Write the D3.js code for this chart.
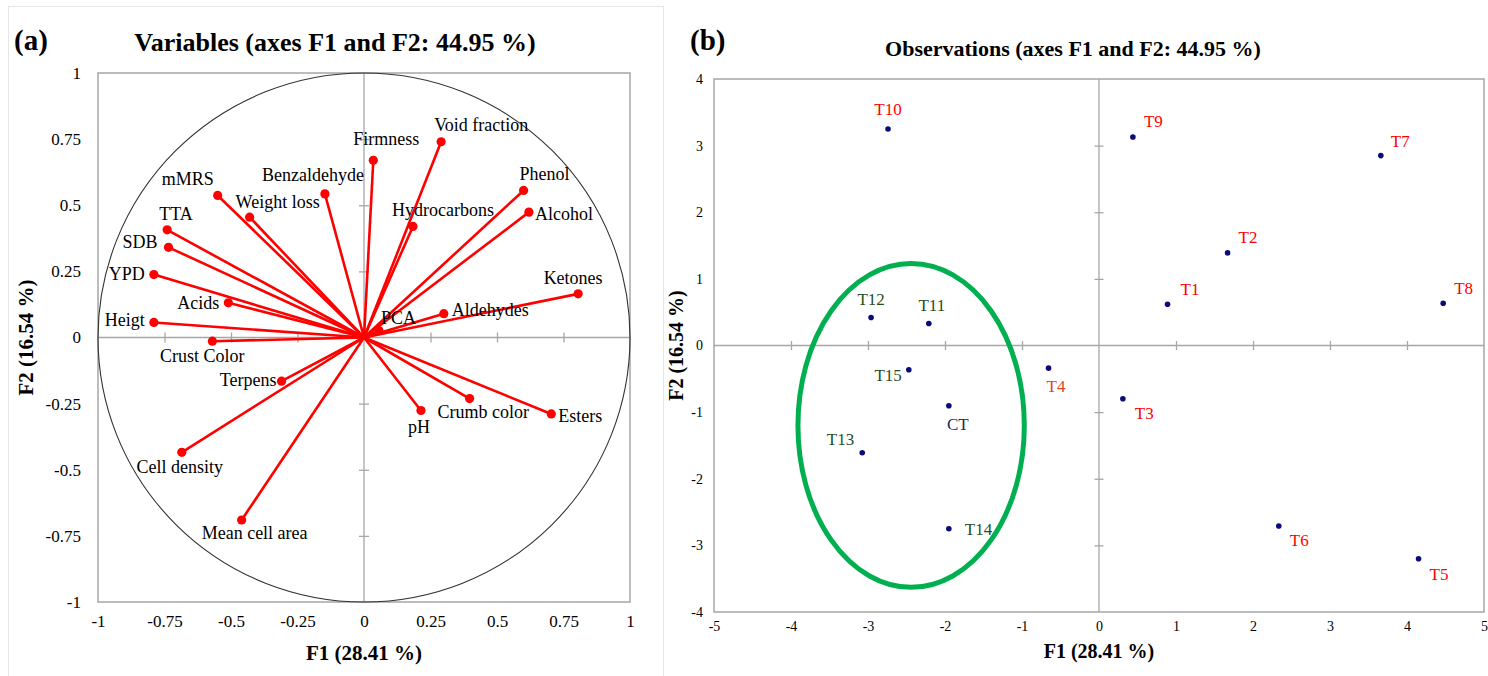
<!DOCTYPE html>
<html lang="en">
<head>
<meta charset="utf-8">
<title>PCA F1-F2</title>
<script src="https://cdn.jsdelivr.net/npm/d3@7"></script>
<style>
body { margin: 0; background: #fff; }
svg text { font-family: "Liberation Serif", "Times New Roman", serif; fill: #000; }
.frame { fill: none; stroke: #a6a6a6; stroke-width: 1.5px; }
.zero { stroke: #a6a6a6; stroke-width: 1.3px; }
.marks line { stroke: #a6a6a6; stroke-width: 1.3px; }
.bold { font-weight: bold; }
</style>
</head>
<body>
<script>
var w = 1488, h = 676;
var serif = "'Liberation Serif', 'Times New Roman', serif";

// (a) variables: loadings on F1 / F2
var varNames = ["Firmness", "Void fraction", "Benzaldehyde", "mMRS", "Weight loss", "Phenol", "Alcohol",
  "Hydrocarbons", "TTA", "SDB", "YPD", "Acids", "Heigt", "Ketones", "Aldehydes", "PCA", "Crust Color",
  "Terpens", "Cell density", "Mean cell area", "pH", "Crumb color", "Esters"];
var varF1 = [0.035, 0.29, -0.147, -0.55, -0.43, 0.60, 0.62, 0.184, -0.74, -0.735, -0.79, -0.51, -0.79,
  0.805, 0.30, 0.056, -0.57, -0.31, -0.685, -0.46, 0.214, 0.397, 0.704];
var varF2 = [0.67, 0.74, 0.543, 0.537, 0.455, 0.556, 0.474, 0.42, 0.407, 0.341, 0.238, 0.131, 0.057,
  0.165, 0.09, 0.026, -0.014, -0.165, -0.434, -0.69, -0.276, -0.231, -0.289];
var varTicks = [-1, -0.75, -0.5, -0.25, 0, 0.25, 0.5, 0.75, 1];

// (b) observations: scores on F1 / F2
var obsNames = ["T10", "T9", "T7", "T2", "T1", "T8", "T12", "T11", "T15", "CT", "T13", "T14", "T4", "T3", "T6", "T5"];
var obsF1 = [-2.74, 0.44, 3.66, 1.67, 0.89, 4.47, -2.96, -2.21, -2.47, -1.95, -3.075, -1.95, -0.655, 0.31, 2.335, 4.15];
var obsF2 = [3.25, 3.13, 2.85, 1.39, 0.62, 0.635, 0.42, 0.33, -0.365, -0.905, -1.61, -2.75, -0.34, -0.80, -2.71, -3.20];
var obsXTicks = [-5, -4, -3, -2, -1, 0, 1, 2, 3, 4, 5];
var obsYTicks = [-4, -3, -2, -1, 0, 1, 2, 3, 4];
var groupCentre = [-2.44, -1.2];
var groupRadii = [1.47, 2.43];

// label placement: [anchor, dx, dy]
var varLab = {
  "Firmness": ["middle", 13, -15], "Void fraction": ["start", -7, -11], "Benzaldehyde": ["end", 39, -13],
  "mMRS": ["end", -4, -10], "Weight loss": ["start", -14, -9], "Phenol": ["start", -4, -10],
  "Alcohol": ["start", 6, 8], "Hydrocarbons": ["start", -21, -10], "TTA": ["start", -8, -10],
  "SDB": ["end", -11, 1], "YPD": ["end", -9, 5], "Acids": ["end", -9, 6], "Heigt": ["end", -9, 4],
  "Ketones": ["middle", -5, -10], "Aldehydes": ["start", 8, 2], "PCA": ["start", 2, -7],
  "Crust Color": ["middle", -10, 21], "Terpens": ["end", -5, 5], "Cell density": ["middle", -2, 21],
  "Mean cell area": ["middle", 13, 19], "pH": ["middle", -2, 22], "Crumb color": ["start", -32, 19],
  "Esters": ["start", 7, 8]
};
var obsLab = {
  "T10": ["middle", 0, -14], "T9": ["start", 11, -10], "T7": ["start", 10, -9], "T2": ["start", 11, -10],
  "T1": ["start", 13, -9], "T8": ["start", 11, -9], "T12": ["middle", 0, -13], "T11": ["middle", 3, -13],
  "T15": ["end", -7, 11], "CT": ["middle", 9, 24], "T13": ["end", -8, -8], "T14": ["start", 16, 6],
  "T4": ["start", -2, 24], "T3": ["start", 12, 20], "T6": ["start", 11, 20], "T5": ["start", 11, 21]
};
function obsColour(n) {
  if (n == "CT") return "#1c2b55";
  if (n == "T4") return "#e2441c";
  if (["T11", "T12", "T13", "T14", "T15"].indexOf(n) >= 0) return "#1f4f1f";
  return "#ff0000";
}
var fmt = function(d) { return String(d); };

// tick labels only: no domain, serif text
function labelsOnly(size) {
  return function(g) {
    g.select(".domain").remove();
    g.attr("font-family", null).attr("font-size", null);
    g.selectAll("text").style("font-family", serif).style("font-size", size).style("fill", "#000");
  };
}

var svg = d3.select("body").append("svg")
  .attr("width", w)
  .attr("height", h);

svg.append("rect").attr("width", w).attr("height", h).attr("fill", "#fff");
// thin border round panel (a)
svg.append("rect")
  .attr("x", 8.5).attr("y", 6.5).attr("width", 655).attr("height", 690)
  .attr("fill", "none").attr("stroke", "#e6e6e6");

// ---------- panel (a) ----------
var xA = d3.scaleLinear().domain([-1, 1]).range([98, 630]);
var yA = d3.scaleLinear().domain([-1, 1]).range([602, 73]);
var gA = svg.append("g");

gA.append("rect").attr("class", "frame")
  .attr("x", xA(-1)).attr("y", yA(1))
  .attr("width", xA(1) - xA(-1)).attr("height", yA(-1) - yA(1));
gA.append("line").attr("class", "zero")
  .attr("x1", xA(0)).attr("x2", xA(0)).attr("y1", yA(1)).attr("y2", yA(-1));
gA.append("line").attr("class", "zero")
  .attr("x1", xA(-1)).attr("x2", xA(1)).attr("y1", yA(0)).attr("y2", yA(0));

// tick marks crossing the zero lines
var innerA = varTicks.filter(function(d) { return d != 0 && Math.abs(d) != 1; });
gA.append("g").attr("class", "marks")
  .attr("transform", "translate(" + (xA(0) + 5) + ",0)")
  .call(d3.axisLeft(yA).tickValues(innerA).tickSize(10).tickFormat(""))
  .call(function(g) { g.select(".domain").remove(); });
gA.append("g").attr("class", "marks")
  .attr("transform", "translate(0," + (yA(0) - 5) + ")")
  .call(d3.axisBottom(xA).tickValues(innerA).tickSize(10).tickFormat(""))
  .call(function(g) { g.select(".domain").remove(); });

// tick labels
gA.append("g")
  .attr("transform", "translate(" + xA(-1) + ",0)")
  .call(d3.axisLeft(yA).tickValues(varTicks).tickSize(0).tickPadding(17).tickFormat(fmt))
  .call(labelsOnly("17px"));
gA.append("g")
  .attr("transform", "translate(0," + yA(-1) + ")")
  .call(d3.axisBottom(xA).tickValues(varTicks).tickSize(0).tickPadding(13).tickFormat(fmt))
  .call(labelsOnly("17px"));

// correlation circle
gA.append("ellipse")
  .attr("cx", xA(0)).attr("cy", yA(0))
  .attr("rx", xA(1) - xA(0)).attr("ry", yA(-1) - yA(0))
  .attr("fill", "none").attr("stroke", "#333").attr("stroke-width", 1.1);

var idxA = d3.range(varNames.length);
gA.selectAll("line.vec")
  .data(idxA).enter().append("line")
  .attr("class", "vec")
  .attr("x1", xA(0)).attr("y1", yA(0))
  .attr("x2", function(i) { return xA(varF1[i]); })
  .attr("y2", function(i) { return yA(varF2[i]); })
  .attr("stroke", "#ff0000").attr("stroke-width", 2.6);
gA.selectAll("circle")
  .data(idxA).enter().append("circle")
  .attr("cx", function(i) { return xA(varF1[i]); })
  .attr("cy", function(i) { return yA(varF2[i]); })
  .attr("r", 4.6).attr("fill", "#ff0000");
gA.selectAll("text.lab")
  .data(idxA).enter().append("text")
  .attr("class", "lab")
  .attr("x", function(i) { return xA(varF1[i]) + varLab[varNames[i]][1]; })
  .attr("y", function(i) { return yA(varF2[i]) + varLab[varNames[i]][2]; })
  .attr("text-anchor", function(i) { return varLab[varNames[i]][0]; })
  .attr("font-size", "18px")
  .text(function(i) { return varNames[i]; });

svg.append("text").attr("class", "bold")
  .attr("x", 14).attr("y", 50).attr("font-size", "29px").text("(a)");
svg.append("text").attr("class", "bold")
  .attr("x", 335).attr("y", 51).attr("text-anchor", "middle").attr("font-size", "26px")
  .text("Variables (axes F1 and F2: 44.95 %)");
svg.append("text").attr("class", "bold")
  .attr("x", xA(0)).attr("y", 660).attr("text-anchor", "middle").attr("font-size", "21px")
  .text("F1 (28.41 %)");
svg.append("text").attr("class", "bold")
  .attr("transform", "translate(33," + yA(0) + ") rotate(-90)")
  .attr("text-anchor", "middle").attr("font-size", "21px")
  .text("F2 (16.54 %)");

// ---------- panel (b) ----------
var xB = d3.scaleLinear().domain([-5, 5]).range([714, 1484]);
var yB = d3.scaleLinear().domain([-4, 4]).range([612, 79]);
var gB = svg.append("g");

gB.append("rect").attr("class", "frame")
  .attr("x", xB(-5)).attr("y", yB(4))
  .attr("width", xB(5) - xB(-5)).attr("height", yB(-4) - yB(4));
gB.append("line").attr("class", "zero")
  .attr("x1", xB(0)).attr("x2", xB(0)).attr("y1", yB(4)).attr("y2", yB(-4));
gB.append("line").attr("class", "zero")
  .attr("x1", xB(-5)).attr("x2", xB(5)).attr("y1", yB(0)).attr("y2", yB(0));

gB.append("g").attr("class", "marks")
  .attr("transform", "translate(" + (xB(0) + 4.5) + ",0)")
  .call(d3.axisLeft(yB).tickValues(obsYTicks.filter(function(d) { return d != 0 && Math.abs(d) != 4; }))
    .tickSize(9).tickFormat(""))
  .call(function(g) { g.select(".domain").remove(); });
gB.append("g").attr("class", "marks")
  .attr("transform", "translate(0," + (yB(0) - 4.5) + ")")
  .call(d3.axisBottom(xB).tickValues(obsXTicks.filter(function(d) { return d != 0 && Math.abs(d) != 5; }))
    .tickSize(9).tickFormat(""))
  .call(function(g) { g.select(".domain").remove(); });

gB.append("g")
  .attr("transform", "translate(" + xB(-5) + ",0)")
  .call(d3.axisLeft(yB).tickValues(obsYTicks).tickSize(0).tickPadding(11).tickFormat(fmt))
  .call(labelsOnly("14px"));
gB.append("g")
  .attr("transform", "translate(0," + yB(-4) + ")")
  .call(d3.axisBottom(xB).tickValues(obsXTicks).tickSize(0).tickPadding(9).tickFormat(fmt))
  .call(labelsOnly("14px"));

// group ellipse
gB.append("ellipse")
  .attr("cx", xB(groupCentre[0])).attr("cy", yB(groupCentre[1]))
  .attr("rx", xB(groupRadii[0]) - xB(0)).attr("ry", yB(0) - yB(groupRadii[1]))
  .attr("fill", "none").attr("stroke", "#00b050").attr("stroke-width", 5);

var idxB = d3.range(obsNames.length);
gB.selectAll("circle")
  .data(idxB).enter().append("circle")
  .attr("cx", function(i) { return xB(obsF1[i]); })
  .attr("cy", function(i) { return yB(obsF2[i]); })
  .attr("r", 2.8).attr("fill", "#0b0b7a");
gB.selectAll("text.lab")
  .data(idxB).enter().append("text")
  .attr("class", "lab")
  .attr("x", function(i) { return xB(obsF1[i]) + obsLab[obsNames[i]][1]; })
  .attr("y", function(i) { return yB(obsF2[i]) + obsLab[obsNames[i]][2]; })
  .attr("text-anchor", function(i) { return obsLab[obsNames[i]][0]; })
  .attr("font-size", "17px")
  .style("fill", function(i) { return obsColour(obsNames[i]); })
  .text(function(i) { return obsNames[i]; });

svg.append("text").attr("class", "bold")
  .attr("x", 690).attr("y", 50).attr("font-size", "29px").text("(b)");
svg.append("text").attr("class", "bold")
  .attr("x", 1073).attr("y", 56).attr("text-anchor", "middle").attr("font-size", "22px")
  .text("Observations (axes F1 and F2: 44.95 %)");
svg.append("text").attr("class", "bold")
  .attr("x", xB(0)).attr("y", 658).attr("text-anchor", "middle").attr("font-size", "20px")
  .text("F1 (28.41 %)");
svg.append("text").attr("class", "bold")
  .attr("transform", "translate(683," + yB(0) + ") rotate(-90)")
  .attr("text-anchor", "middle").attr("font-size", "20px")
  .text("F2 (16.54 %)");
</script>
</body>
</html>
